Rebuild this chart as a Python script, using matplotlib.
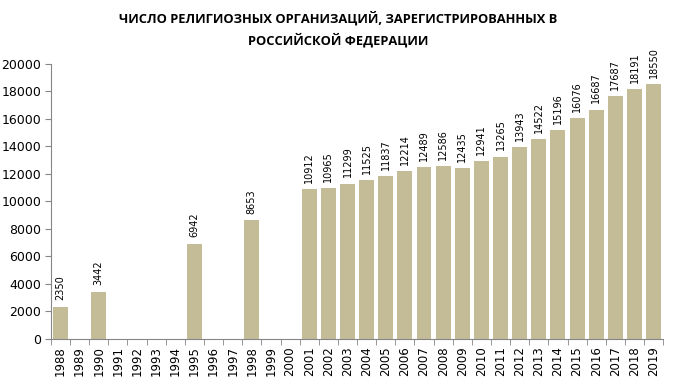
import matplotlib.pyplot as plt
import numpy as np

# Данные
years = list(range(1988, 2020))
values = [2350, 0, 3442, 0, 0, 0, 0, 6942, 0, 0, 8653, 0, 0,
          10912, 10965, 11299, 11525, 11837, 12214, 12489, 12586, 12435,
          12941, 13265, 13943, 14522, 15196, 16076, 16687, 17687, 18191, 18550]
yticks = list(range(0, 20001, 2000))

bar_color = "#C4BC96"
axis_color = "#868686"

fig = plt.figure(figsize=(6.76, 3.82), dpi=100)
ax = fig.add_axes([0.0754, 0.1126, 0.9056, 0.72])

x = np.arange(len(years))
bars = ax.bar(x, values, width=0.78, color=bar_color, zorder=2)

for xi, v in zip(x, values):
    if v == 0:
        continue
    ax.text(xi, v + 450, str(v), rotation=90, ha="center", va="bottom",
            fontsize=7, family="DejaVu Sans")

ax.set_xlim(-0.5, len(years) - 0.5)
ax.set_ylim(0, 20000)
ax.set_yticks(yticks)
ax.set_yticklabels([str(t) for t in yticks], fontsize=9)
ax.set_xticks(x)
ax.set_xticklabels([str(y) for y in years], rotation=90, fontsize=8.5)
ax.set_xticks(np.arange(-0.5, len(years)), minor=True)
ax.tick_params(axis="x", which="major", length=0, pad=5)
ax.tick_params(axis="x", which="minor", length=4, color=axis_color)
ax.tick_params(axis="y", length=4, color=axis_color, pad=3)

for side in ["top", "right"]:
    ax.spines[side].set_visible(False)
for side in ["left", "bottom"]:
    ax.spines[side].set_color(axis_color)

fig.suptitle("ЧИСЛО РЕЛИГИОЗНЫХ ОРГАНИЗАЦИЙ, ЗАРЕГИСТРИРОВАННЫХ В\nРОССИЙСКОЙ ФЕДЕРАЦИИ",
             x=0.5, y=0.97, fontsize=9.3, fontweight="bold", family="Open Sans",
             linespacing=1.6)

plt.savefig("out.png", dpi=100)
